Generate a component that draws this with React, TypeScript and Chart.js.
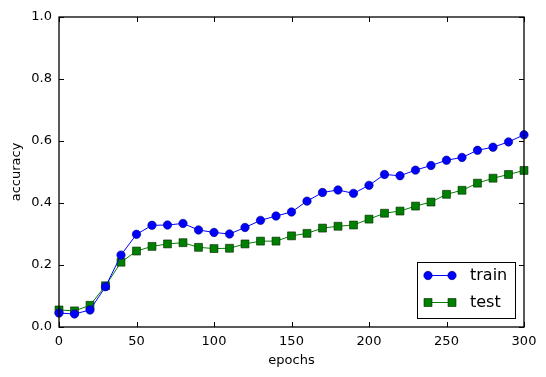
import React, { useEffect, useRef } from 'react';
import { Chart, registerables } from 'chart.js';

Chart.register(...registerables);

const epochs = [0, 10, 20, 30, 40, 50, 60, 70, 80, 90, 100, 110, 120, 130, 140, 150, 160, 170, 180, 190, 200, 210, 220, 230, 240, 250, 260, 270, 280, 290, 300];
const trainAcc = [0.045, 0.042, 0.055, 0.13, 0.232, 0.299, 0.328, 0.329, 0.334, 0.313, 0.305, 0.300, 0.321, 0.344, 0.358, 0.371, 0.406, 0.434, 0.442, 0.431, 0.457, 0.492, 0.488, 0.506, 0.521, 0.538, 0.547, 0.570, 0.580, 0.597, 0.620];
const testAcc = [0.055, 0.052, 0.070, 0.133, 0.209, 0.245, 0.260, 0.268, 0.272, 0.257, 0.253, 0.254, 0.268, 0.277, 0.277, 0.294, 0.302, 0.319, 0.325, 0.329, 0.348, 0.367, 0.374, 0.390, 0.403, 0.428, 0.441, 0.464, 0.480, 0.492, 0.505];
const seriesNames = ['train', 'test'];
const xLabel = 'epochs';
const yLabel = 'accuracy';

const FONT = "'DejaVu Sans', sans-serif";

const framePlugin = {
  id: 'frameTicks',
  afterDraw(chart: any) {
    const { ctx, chartArea, scales } = chart;
    const { left, right, top, bottom } = chartArea;
    const tl = 5;
    ctx.save();
    ctx.strokeStyle = '#000';
    ctx.lineWidth = 1;
    ctx.beginPath();
    scales.x.ticks.forEach((t: any) => {
      const px = Math.round(scales.x.getPixelForValue(t.value)) + 0.5;
      ctx.moveTo(px, bottom);
      ctx.lineTo(px, bottom - tl);
      ctx.moveTo(px, top);
      ctx.lineTo(px, top + tl);
    });
    scales.y.ticks.forEach((t: any) => {
      const py = Math.round(scales.y.getPixelForValue(t.value)) + 0.5;
      ctx.moveTo(left, py);
      ctx.lineTo(left + tl, py);
      ctx.moveTo(right, py);
      ctx.lineTo(right - tl, py);
    });
    ctx.stroke();
    ctx.lineWidth = 1.3;
    ctx.strokeRect(left, top, right - left, bottom - top);

    // legend (lower right, inside axes)
    const bx = right - 107;
    const by = bottom - 65;
    const bw = 98;
    const bh = 56;
    ctx.fillStyle = '#fff';
    ctx.fillRect(bx, by, bw, bh);
    ctx.lineWidth = 1;
    ctx.strokeRect(bx + 0.5, by + 0.5, bw, bh);
    chart.data.datasets.forEach((ds: any, i: number) => {
      const y = by + 13.5 + i * 27;
      const x0 = bx + 11;
      const x1 = bx + 35;
      ctx.strokeStyle = ds.borderColor;
      ctx.lineWidth = 1;
      ctx.beginPath();
      ctx.moveTo(x0, y);
      ctx.lineTo(x1, y);
      ctx.stroke();
      [x0, x1].forEach((x) => {
        ctx.fillStyle = ds.pointBackgroundColor;
        ctx.strokeStyle = ds.pointBorderColor;
        ctx.lineWidth = 0.6;
        ctx.beginPath();
        if (ds.pointStyle === 'rect') {
          ctx.rect(x - 4, y - 4, 8, 8);
        } else {
          ctx.arc(x, y, 4.2, 0, Math.PI * 2);
        }
        ctx.fill();
        ctx.stroke();
      });
      ctx.fillStyle = '#000';
      ctx.font = `16px ${FONT}`;
      ctx.textAlign = 'left';
      ctx.textBaseline = 'middle';
      ctx.fillText(ds.label, bx + 53, y);
    });
    ctx.restore();
  },
};

export default function App() {
  const ref = useRef<HTMLCanvasElement>(null);
  useEffect(() => {
    if (!ref.current) return;
    const chart = new Chart(ref.current, {
      type: 'line',
      data: {
        datasets: [
          {
            label: seriesNames[0],
            data: epochs.map((e, i) => ({ x: e, y: trainAcc[i] })),
            borderColor: '#0000ff',
            backgroundColor: '#0000ff',
            pointBackgroundColor: '#0000ff',
            pointBorderColor: '#000080',
            pointBorderWidth: 0.6,
            pointStyle: 'circle',
            pointRadius: 4.2,
            borderWidth: 1,
            tension: 0,
            clip: false,
          } as any,
          {
            label: seriesNames[1],
            data: epochs.map((e, i) => ({ x: e, y: testAcc[i] })),
            borderColor: '#008000',
            backgroundColor: '#008000',
            pointBackgroundColor: '#008000',
            pointBorderColor: '#002000',
            pointBorderWidth: 0.6,
            pointStyle: 'rect',
            pointRadius: 5.6,
            borderWidth: 1,
            tension: 0,
            clip: false,
          } as any,
        ],
      },
      options: {
        animation: false,
        responsive: true,
        maintainAspectRatio: false,
        layout: { padding: { left: 0, right: 22, top: 17, bottom: 0 } },
        plugins: {
          legend: { display: false },
          tooltip: { enabled: false },
        },
        scales: {
          x: {
            type: 'linear',
            min: 0,
            max: 300,
            grid: { display: false, drawTicks: false },
            border: { display: false },
            ticks: {
              stepSize: 50,
              padding: 7,
              color: '#000',
              font: { family: FONT, size: 13 },
              maxRotation: 0,
            },
            title: {
              display: true,
              text: xLabel,
              color: '#000',
              font: { family: FONT, size: 13 },
              padding: { top: 0, bottom: 9 },
            },
            afterFit: (s: any) => {
              s.height = 50;
            },
          },
          y: {
            type: 'linear',
            min: 0,
            max: 1,
            grid: { display: false, drawTicks: false },
            border: { display: false },
            ticks: {
              stepSize: 0.2,
              padding: 7,
              color: '#000',
              font: { family: FONT, size: 13 },
              callback: (v: any) => Number(v).toFixed(1),
            },
            title: {
              display: true,
              text: yLabel,
              color: '#000',
              font: { family: FONT, size: 13 },
              padding: { top: 9, bottom: 0 },
            },
            afterFit: (s: any) => {
              s.width = 59;
            },
          },
        },
      },
      plugins: [framePlugin],
    });
    return () => chart.destroy();
  }, []);
  return (
    <div style={{ position: 'absolute', left: 0, top: 0, width: 546, height: 377, background: '#fff' }}>
      <canvas ref={ref} />
    </div>
  );
}
